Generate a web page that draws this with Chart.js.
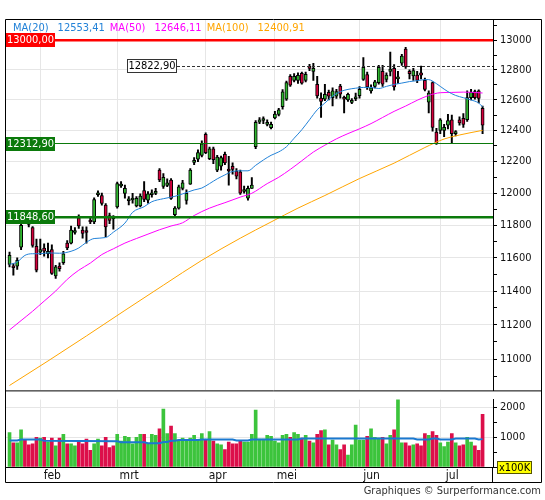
<!DOCTYPE html>
<html>
<head>
<meta charset="utf-8">
<title>Candlestick chart</title>
<script src="https://cdn.jsdelivr.net/npm/chart.js@4.4.1/dist/chart.umd.min.js"></script>
<style>
  html, body { margin:0; padding:0; background:#ffffff; }
  #wrap { position:relative; width:545px; height:500px; overflow:hidden; }
  canvas { position:absolute; left:0; }
  #priceCanvas { top:0; }
  #volCanvas { top:390px; }
</style>
</head>
<body>
<div id="wrap">
  <canvas id="priceCanvas" width="545" height="400" style="width:545px;height:400px"></canvas>
  <canvas id="volCanvas" width="545" height="110" style="width:545px;height:110px"></canvas>
</div>
<script>
// ================= DATA =================
const tradingDays = {
  '2017-01': [20,23,24,25,26,27,30,31],
  '2017-02': [1,2,3,6,7,8,9,10,13,14,15,16,17,20,21,22,23,24,27,28],
  '2017-03': [1,2,3,6,7,8,9,10,13,14,15,16,17,20,21,22,23,24,27,28,29,30,31],
  '2017-04': [3,4,5,6,7,10,11,12,13,18,19,20,21,24,25,26,27,28],
  '2017-05': [2,3,4,5,8,9,10,11,12,15,16,17,18,19,22,23,24,25,26,29,30,31],
  '2017-06': [1,2,6,7,8,9,12,13,14,15,16,19,20,21,22,23,26,27,28,29,30],
  '2017-07': [3,4,5,6,7,10,11,12,13,14,17,18]
};
const monthNames = {'2017-02':'feb','2017-03':'mrt','2017-04':'apr','2017-05':'mei','2017-06':'jun','2017-07':'jul'};

const open = [11560,11552,11550,11665,11870,11815,11785,11670,11635,11660,
  11625,11650,11490,11550,11570,11690,11690,11755,11845,11770,
  11765,11830,11820,11990,11985,11925,11860,11850,11913,12045,
  11998,11952,11957,11920,11920,12016,11955,11990,11998,12145,
  12042,12048,12083,11865,11906,12030,11954,12057,12195,12215,
  12240,12375,12219,12282,12145,12170,12246,12150,12170,12140,
  12135,12010,11968,12030,12296,12454,12465,12440,12418,12482,
  12505,12556,12605,12757,12730,12730,12777,12730,12823,12790,
  12703,12612,12605,12650,12615,12625,12692,12617,12600,12584,
  12608,12628,12736,12768,12660,12690,12715,12790,12737,12790,
  12810,12740,12845,12940,12790,12760,12765,12780,12730,12585,
  12715,12390,12400,12400,12435,12470,12380,12470,12480,12470,
  12615,12655,12660,12545];
const high = [11635,11565,11600,11810,11890,11830,11792,11715,11715,11685,
  11690,11680,11555,11570,11640,11705,11795,11785,11865,11790,
  11790,11845,11970,12015,12000,11935,11875,11860,12070,12072,
  12050,11978,11999,11978,11995,12072,12009,12020,12030,12155,
  12124,12090,12092,11916,12050,12080,12020,12155,12225,12275,
  12333,12385,12293,12293,12240,12235,12260,12233,12192,12155,
  12145,12044,12044,12098,12465,12485,12490,12470,12455,12525,
  12545,12668,12725,12768,12775,12780,12785,12785,12838,12844,
  12757,12648,12703,12665,12680,12670,12703,12625,12645,12610,
  12645,12688,12883,12785,12700,12730,12830,12830,12780,12920,
  12835,12790,12905,12952,12800,12810,12790,12825,12745,12660,
  12720,12415,12478,12440,12505,12500,12400,12490,12510,12660,
  12670,12665,12667,12560];
const low = [11545,11495,11530,11650,11815,11790,11665,11515,11620,11610,
  11600,11500,11475,11520,11560,11650,11685,11745,11780,11720,
  11690,11810,11810,11980,11925,11730,11810,11775,11905,12036,
  11968,11926,11937,11913,11913,11947,11937,11975,11990,12072,
  12030,12040,11961,11854,11900,12020,11930,12055,12180,12200,
  12230,12250,12212,12187,12135,12145,12180,12050,12120,12090,
  11992,11999,11955,12030,12282,12445,12445,12430,12410,12475,
  12495,12540,12597,12690,12720,12710,12705,12720,12795,12730,
  12612,12485,12595,12600,12560,12610,12612,12515,12590,12575,
  12595,12612,12730,12670,12645,12680,12705,12690,12720,12760,
  12665,12710,12830,12810,12740,12730,12715,12740,12660,12515,
  12395,12310,12380,12360,12410,12318,12365,12435,12420,12460,
  12600,12605,12580,12380];
const close = [11615,11540,11585,11800,11830,11805,11675,11525,11650,11640,
  11640,11505,11545,11535,11625,11660,11770,11765,11795,11750,
  11755,11820,11960,12000,11935,11790,11830,11840,12060,12055,
  12030,11960,11968,11968,11982,11960,11996,12000,12012,12083,
  12100,12065,11967,11906,12040,12065,11999,12145,12205,12258,
  12314,12257,12282,12212,12229,12225,12192,12140,12150,12107,
  11999,12020,12030,12050,12454,12469,12473,12449,12440,12508,
  12535,12654,12715,12698,12757,12763,12712,12770,12810,12810,
  12627,12590,12638,12625,12660,12655,12638,12605,12638,12598,
  12615,12670,12818,12686,12680,12720,12818,12705,12765,12805,
  12686,12750,12893,12820,12775,12795,12730,12765,12670,12645,
  12420,12315,12470,12420,12465,12380,12390,12450,12440,12615,
  12650,12615,12610,12435];
// volume in units of 100K
const volume = [1155,809,809,1250,914,746,777,998,966,998,
  840,966,714,966,1092,777,777,714,840,777,
  935,557,777,935,714,998,651,714,1092,872,
  1029,998,777,998,1092,1092,777,1092,1061,1281,
  1943,1124,1376,1124,903,966,903,966,1061,903,
  1124,903,1187,872,777,746,588,840,777,777,
  872,840,840,1092,1911,935,935,1061,1029,872,
  809,1061,1092,998,1155,1092,966,1061,872,809,
  1092,1218,1250,746,903,746,588,746,399,746,
  1407,903,903,1029,1281,998,966,998,777,1061,
  1250,2400,809,809,714,746,777,714,1124,1061,
  1187,1061,809,683,840,1124,809,714,746,998,
  840,714,557,1770];
// moving averages: [bar index, value]
const ma20 = [[0,11560],[2,11575],[4,11615],[6,11625],[8,11625],[10,11630],[13,11628],[16,11640],[18,11660],[20,11695],
  [22,11718],[25,11724],[27,11757],[30,11813],[32,11880],[35,11915],[37,11946],[40,11965],[43,11980],[45,11995],
  [48,12020],[50,12032],[52,12060],[54,12090],[56,12115],[58,12137],[60,12141],[62,12141],[64,12176],[66,12210],
  [68,12240],[70,12262],[72,12295],[74,12350],[76,12405],[78,12470],[80,12535],[82,12580],[84,12625],[86,12655],
  [88,12670],[90,12678],[92,12683],[94,12683],[96,12676],[98,12690],[100,12703],[102,12712],[104,12722],[106,12728],
  [108,12735],[109,12735],[110,12725],[112,12690],[114,12655],[116,12630],[118,12615],[120,12600],[122,12580],[123,12555]];
const ma50 = [[0,11170],[3,11225],[6,11280],[9,11340],[12,11400],[15,11470],[18,11525],[21,11568],[24,11620],[27,11655],
  [30,11690],[33,11718],[36,11745],[39,11772],[42,11795],[45,11815],[48,11860],[52,11906],[56,11940],[60,11975],
  [63,11999],[67,12060],[70,12100],[73,12150],[76,12205],[79,12261],[82,12305],[85,12346],[88,12380],[91,12411],
  [94,12445],[97,12485],[100,12525],[103,12560],[106,12598],[109,12630],[112,12648],[115,12650],[118,12652],[121,12650],[123,12646]];
const ma100 = [[0,10850],[10,10990],[20,11135],[30,11285],[40,11435],[50,11585],[60,11720],[68,11820],[75,11906],
  [82,11985],[91,12092],[100,12190],[108,12290],[113,12345],[117,12371],[123,12401]];
const volMa = [[0,893],[2,893],[3,924],[8,924],[9,882],[19,870],[28,861],[29,830],[35,830],[36,800],[39,800],[40,840],
  [41,840],[42,882],[43,882],[44,903],[49,903],[50,924],[58,924],[59,893],[62,893],[63,924],[75,924],[76,956],
  [105,956],[106,924],[109,924],[110,956],[111,956],[112,924],[115,924],[116,956],[121,956],[122,924],[123,935]];

const maLabels = ['MA(20)','MA(50)','MA(100)'];
const maLast = [12553.41, 12646.11, 12400.91];
const levels = [13000.00, 12822.90, 12312.90, 11848.60];
const priceTicks = [10900,11000,11100,11200,11300,11400,11500,11600,11700,11800,11900,12000,
  12100,12200,12300,12400,12500,12600,12700,12800,12900,13000,13100];
const priceTickLabels = [11000,11200,11400,11600,11800,12000,12200,12400,12600,12800,13000];
const volTicks = [0,500,1000,1500,2000];
const volTickLabels = [1000,2000];
const volUnit = 'x100K';
const footer = 'Graphiques \u00A9 Surperformance.com';

// ================= DERIVED =================
const dates = Object.entries(tradingDays).flatMap(([m, ds]) => ds.map(d => m + '-' + String(d).padStart(2,'0')));
const monthStarts = [];
dates.forEach((d, i) => { if (i > 0 && d.slice(0,7) !== dates[i-1].slice(0,7)) monthStarts.push(i); });
const idx = dates.map((_, i) => i);
const isUp = idx.map(i => close[i] >= open[i]);
const fmt = v => v.toFixed(2).replace('.', ',');

// ================= STYLE =================
const FONT = "'DejaVu Sans Condensed','DejaVu Sans',sans-serif";
Chart.defaults.font.family = FONT;
Chart.defaults.font.size = 11;
Chart.defaults.color = '#111';
const C_UP = '#2fb52f', C_DN = '#d4003c';
const V_UP = '#3cc43c', V_DN = '#dc0f4a';
const GRID = '#e6e6e6';
const MA_COLORS = ['#2282d8', '#ff00ff', '#ffa500'];
const X_MIN = -0.918, X_MAX = 125.71;
const P_MIN = 10821.9, P_MAX = 13139;
const FRAME_L = 5.5, FRAME_R = 541.5;

const levelStyle = [
  {line:'#ff0000', lw:2.5, box:'#ff0000', txt:'#ffffff', bx:6, bw:49},
  {line:'#333333', lw:1, dash:[3,2], box:'#ffffff', boxStroke:'#333333', txt:'#000000', bx:127, bw:50, from:177},
  {line:'#0b7a0b', lw:1, box:'#0b7a0b', txt:'#ffffff', bx:6, bw:49},
  {line:'#0b7a0b', lw:2.5, box:'#0b7a0b', txt:'#ffffff', bx:6, bw:49}
];

const monthAxis = (showLabels) => ({
  type:'linear', min:X_MIN, max:X_MAX, offset:false,
  afterBuildTicks: s => { s.ticks = monthStarts.map(v => ({value:v})); },
  ticks: showLabels ? {
    autoSkip:false, maxRotation:0, labelOffset:12, padding:2, color:'#111',
    font:{size:12, family:FONT},
    callback: v => monthNames[dates[v].slice(0,7)] || ''
  } : {display:false},
  grid:{color:GRID, drawTicks:false, offset:false},
  border: showLabels ? {display:true, color:'#000'} : {display:false},
  afterFit: s => { s.height = showLabels ? 15 : 0; }
});

// ================= PRICE CHART =================
const pricePlugin = {
  id:'priceDeco',
  afterDatasetsDraw(chart) {
    const {ctx, chartArea:a, scales:{y}} = chart;
    ctx.save();
    ctx.beginPath(); ctx.rect(a.left, a.top, a.right - a.left, a.bottom - a.top); ctx.clip();
    levels.forEach((lv, k) => {
      const st = levelStyle[k];
      let py = y.getPixelForValue(lv);
      py = (st.lw % 2 === 1) ? Math.round(py - 0.5) + 0.5 : py;
      ctx.strokeStyle = st.line; ctx.lineWidth = st.lw; ctx.setLineDash(st.dash || []);
      ctx.beginPath(); ctx.moveTo(st.from != null ? st.from : a.left, py); ctx.lineTo(a.right, py); ctx.stroke();
    });
    ctx.setLineDash([]);
    ctx.font = '11px ' + FONT; ctx.textAlign = 'center'; ctx.textBaseline = 'middle';
    levels.forEach((lv, k) => {
      const st = levelStyle[k];
      const py = Math.round(y.getPixelForValue(lv));
      const h = 14;
      ctx.fillStyle = st.box; ctx.fillRect(st.bx, py - h/2, st.bw, h);
      if (st.boxStroke) { ctx.strokeStyle = st.boxStroke; ctx.lineWidth = 1; ctx.strokeRect(st.bx + 0.5, py - h/2 + 0.5, st.bw - 1, h - 1); }
      ctx.fillStyle = st.txt; ctx.fillText(fmt(lv), st.bx + st.bw/2, py + 0.5);
    });
    ctx.restore();
  },
  afterDraw(chart) {
    const {ctx, chartArea:a} = chart;
    ctx.save();
    ctx.font = '11px ' + FONT; ctx.textAlign = 'left'; ctx.textBaseline = 'middle';
    let x = 13;
    maLabels.forEach((lab, k) => {
      ctx.fillStyle = MA_COLORS[k];
      ctx.fillText(lab, x, 28.5);
      x += ctx.measureText(lab).width + 9;
      const v = fmt(maLast[k]);
      ctx.fillText(v, x, 28.5);
      x += ctx.measureText(v).width + 5;
    });
    ctx.strokeStyle = '#000'; ctx.lineWidth = 1;
    ctx.beginPath();
    ctx.moveTo(FRAME_L, a.top - 0.5); ctx.lineTo(FRAME_R, a.top - 0.5);
    ctx.moveTo(FRAME_L, a.top - 0.5); ctx.lineTo(FRAME_L, chart.height);
    ctx.moveTo(FRAME_R, a.top - 0.5); ctx.lineTo(FRAME_R, chart.height);
    ctx.moveTo(FRAME_L, a.bottom + 0.5); ctx.lineTo(FRAME_R, a.bottom + 0.5);
    ctx.stroke();
    ctx.restore();
  }
};

const pt = arr => arr.map(([x, y]) => ({x, y}));

new Chart(document.getElementById('priceCanvas'), {
  type:'bar',
  data:{ datasets:[
    {type:'line', label:maLabels[0], data:pt(ma20), borderColor:MA_COLORS[0], borderWidth:1, pointRadius:0, cubicInterpolationMode:'monotone', order:0},
    {type:'line', label:maLabels[1], data:pt(ma50), borderColor:MA_COLORS[1], borderWidth:1, pointRadius:0, cubicInterpolationMode:'monotone', order:0},
    {type:'line', label:maLabels[2], data:pt(ma100), borderColor:MA_COLORS[2], borderWidth:1, pointRadius:0, cubicInterpolationMode:'monotone', order:0},
    {label:'body', data:idx.map(i => ({x:i, y:[Math.min(open[i], close[i]), Math.max(open[i], close[i])]})),
      backgroundColor:isUp.map(u => u ? C_UP : C_DN), borderColor:'#000', borderWidth:1, borderSkipped:false,
      barThickness:3.2, grouped:false, minBarLength:2, order:1},
    {label:'wick', data:idx.map(i => ({x:i, y:[low[i], high[i]]})),
      backgroundColor:'#000', borderWidth:0, barThickness:1.3, grouped:false, order:2}
  ]},
  options:{
    responsive:false, animation:false, events:[],
    layout:{padding:{left:6, top:20, right:4, bottom:6}},
    plugins:{legend:{display:false}, tooltip:{enabled:false}},
    scales:{
      x: monthAxis(false),
      y:{
        type:'logarithmic', position:'right', min:P_MIN, max:P_MAX, bounds:'data',
        afterBuildTicks: s => { s.ticks = priceTicks.map(v => ({value:v})); },
        afterFit: s => { s.width = 48; },
        ticks:{autoSkip:false, padding:3, color:'#111', font:{size:11, family:FONT},
          callback: v => priceTickLabels.includes(v) ? String(v) : ''},
        grid:{color: c => (c.tick && priceTickLabels.includes(c.tick.value)) ? GRID : 'rgba(0,0,0,0)',
          tickColor:'#000', tickLength:4},
        border:{color:'#000'}
      }
    }
  },
  plugins:[pricePlugin]
});

// ================= VOLUME CHART =================
const volPlugin = {
  id:'volDeco',
  afterDraw(chart) {
    const {ctx, chartArea:a} = chart;
    ctx.save();
    ctx.strokeStyle = '#000'; ctx.lineWidth = 1;
    const bottom = 92.5;
    ctx.beginPath();
    ctx.moveTo(FRAME_L, 0); ctx.lineTo(FRAME_L, bottom);
    ctx.moveTo(FRAME_R, 0); ctx.lineTo(FRAME_R, bottom);
    ctx.moveTo(FRAME_L, bottom); ctx.lineTo(FRAME_R, bottom);
    ctx.moveTo(Math.round(a.right) - 0.5, a.bottom); ctx.lineTo(Math.round(a.right) - 0.5, bottom);
    ctx.stroke();
    ctx.fillStyle = '#ffff00'; ctx.fillRect(497, 71, 35, 13);
    ctx.strokeStyle = '#555500'; ctx.strokeRect(497.5, 71.5, 34, 12);
    ctx.fillStyle = '#000'; ctx.font = '11px ' + FONT; ctx.textAlign = 'center'; ctx.textBaseline = 'middle';
    ctx.fillText(volUnit, 514.5, 78);
    ctx.fillStyle = '#333'; ctx.textAlign = 'right';
    ctx.fillText(footer, 541, 101);
    ctx.restore();
  }
};

new Chart(document.getElementById('volCanvas'), {
  type:'bar',
  data:{ datasets:[
    {type:'line', label:'vol MA', data:pt(volMa), borderColor:'#1a78d0', borderWidth:2, pointRadius:0, tension:0, order:0},
    {label:'volume', data:idx.map(i => ({x:i, y:volume[i]})), backgroundColor:isUp.map(u => u ? V_UP : V_DN),
      borderWidth:0, barThickness:3, grouped:false, order:1}
  ]},
  options:{
    responsive:false, animation:false, events:[],
    layout:{padding:{left:6, top:5, right:4, bottom:18}},
    plugins:{legend:{display:false}, tooltip:{enabled:false}},
    scales:{
      x: monthAxis(true),
      y:{
        position:'right', min:0, max:2261, bounds:'data',
        afterBuildTicks: s => { s.ticks = volTicks.map(v => ({value:v})); },
        afterFit: s => { s.width = 48; },
        ticks:{autoSkip:false, padding:3, color:'#111', font:{size:11, family:FONT},
          callback: v => volTickLabels.includes(v) ? String(v) : ''},
        grid:{color: c => (c.tick && volTickLabels.includes(c.tick.value)) ? GRID : 'rgba(0,0,0,0)',
          tickColor:'#000', tickLength:4},
        border:{color:'#000'}
      }
    }
  },
  plugins:[volPlugin]
});
</script>
</body>
</html>
